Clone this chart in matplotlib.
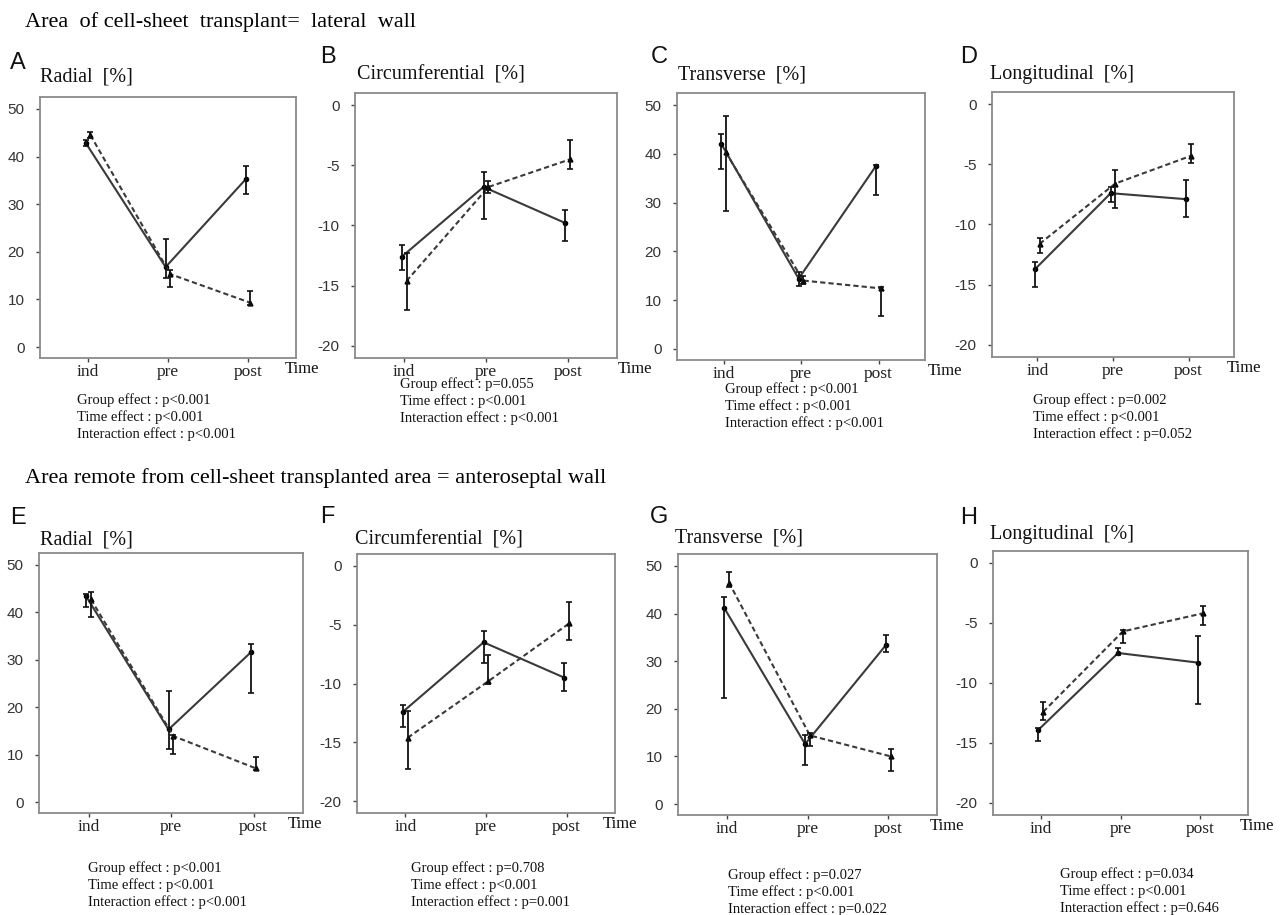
"""
Strain curves (radial / circumferential / transverse / longitudinal) at ind, pre, post,
two groups (solid vs dashed), lateral wall (top row) and anteroseptal wall (bottom row).
Writes out.png.
"""
import matplotlib
matplotlib.use("Agg")
import matplotlib.pyplot as plt

plt.rcParams["axes.unicode_minus"] = False

W, H = 1282, 915
SERIF = ["Liberation Serif", "DejaVu Serif"]
SANS = ["Liberation Sans", "DejaVu Sans"]

times = ["ind", "pre", "post"]

# --- top row: area of cell-sheet transplant (lateral wall) ---
a_solid, a_solid_lo, a_solid_hi = [42.9, 16.8, 35.2], [42.3, 14.5, 32.1], [43.5, 22.7, 38.1]
a_dash, a_dash_lo, a_dash_hi = [44.5, 15.3, 9.3], [43.9, 12.6, 8.9], [45.2, 16.2, 11.8]

b_solid, b_solid_lo, b_solid_hi = [-12.6, -6.8, -9.8], [-13.7, -9.5, -11.3], [-11.6, -5.6, -8.75]
b_dash, b_dash_lo, b_dash_hi = [-14.6, -6.8, -4.5], [-17.0, -7.3, -5.3], [-12.3, -6.3, -2.9]

c_solid, c_solid_lo, c_solid_hi = [42.1, 14.4, 37.6], [37.0, 12.9, 31.6], [44.0, 15.7, 37.8]
c_dash, c_dash_lo, c_dash_hi = [40.3, 14.0, 12.4], [28.3, 13.2, 6.7], [47.7, 15.0, 12.6]

d_solid, d_solid_lo, d_solid_hi = [-13.7, -7.4, -7.9], [-15.2, -8.1, -9.4], [-13.1, -6.9, -6.3]
d_dash, d_dash_lo, d_dash_hi = [-11.6, -6.6, -4.3], [-12.4, -8.6, -4.9], [-11.1, -5.5, -3.35]

# --- bottom row: remote area (anteroseptal wall) ---
e_solid, e_solid_lo, e_solid_hi = [43.4, 15.3, 31.6], [41.1, 11.1, 22.9], [43.9, 23.5, 33.3]
e_dash, e_dash_lo, e_dash_hi = [42.7, 13.9, 7.1], [39.0, 10.2, 6.8], [44.3, 14.1, 9.5]

f_solid, f_solid_lo, f_solid_hi = [-12.4, -6.5, -9.5], [-13.7, -8.3, -10.6], [-11.8, -5.5, -8.3]
f_dash, f_dash_lo, f_dash_hi = [-14.6, -9.8, -4.9], [-17.3, -10.0, -6.3], [-12.3, -7.6, -3.05]

g_solid, g_solid_lo, g_solid_hi = [41.2, 12.6, 33.4], [22.3, 8.3, 32.0], [43.5, 14.4, 35.5]
g_dash, g_dash_lo, g_dash_hi = [46.5, 14.4, 10.0], [45.5, 12.1, 6.9], [48.7, 14.9, 11.6]

h_solid, h_solid_lo, h_solid_hi = [-13.9, -7.5, -8.3], [-14.8, -7.7, -11.75], [-13.75, -7.1, -6.05]
h_dash, h_dash_lo, h_dash_hi = [-12.4, -5.7, -4.2], [-13.1, -6.7, -5.2], [-11.6, -5.55, -3.6]

letters = ["A", "B", "C", "D", "E", "F", "G", "H"]
titles = ["Radial  [%]", "Circumferential  [%]", "Transverse  [%]", "Longitudinal  [%]"] * 2
stats = [
    ["Group effect : p<0.001", "Time effect : p<0.001", "Interaction effect : p<0.001"],
    ["Group effect : p=0.055", "Time effect : p<0.001", "Interaction effect : p<0.001"],
    ["Group effect : p<0.001", "Time effect : p<0.001", "Interaction effect : p<0.001"],
    ["Group effect : p=0.002", "Time effect : p<0.001", "Interaction effect : p=0.052"],
    ["Group effect : p<0.001", "Time effect : p<0.001", "Interaction effect : p<0.001"],
    ["Group effect : p=0.708", "Time effect : p<0.001", "Interaction effect : p=0.001"],
    ["Group effect : p=0.027", "Time effect : p<0.001", "Interaction effect : p=0.022"],
    ["Group effect : p=0.034", "Time effect : p<0.001", "Interaction effect : p=0.646"],
]
row_titles = ["Area  of cell-sheet  transplant=  lateral  wall",
              "Area remote from cell-sheet transplanted area = anteroseptal wall"]

series = [
    (a_solid, a_solid_lo, a_solid_hi, a_dash, a_dash_lo, a_dash_hi),
    (b_solid, b_solid_lo, b_solid_hi, b_dash, b_dash_lo, b_dash_hi),
    (c_solid, c_solid_lo, c_solid_hi, c_dash, c_dash_lo, c_dash_hi),
    (d_solid, d_solid_lo, d_solid_hi, d_dash, d_dash_lo, d_dash_hi),
    (e_solid, e_solid_lo, e_solid_hi, e_dash, e_dash_lo, e_dash_hi),
    (f_solid, f_solid_lo, f_solid_hi, f_dash, f_dash_lo, f_dash_hi),
    (g_solid, g_solid_lo, g_solid_hi, g_dash, g_dash_lo, g_dash_hi),
    (h_solid, h_solid_lo, h_solid_hi, h_dash, h_dash_lo, h_dash_hi),
]

# layout in pixels: axes box (left, top, right, bottom), letter xy, title xy, Time x, stats xy
boxes = [(40, 97, 296, 358), (355, 93, 617, 358), (677, 93, 925, 360), (992, 92, 1234, 357),
         (39, 553, 303, 813), (357, 554, 615, 813), (678, 554, 937, 815), (993, 551, 1248, 815)]
letter_xy = [(10, 63), (320, 57), (651, 57), (960, 57), (10, 518), (320, 517), (650, 517), (960, 518)]
title_xy = [(40, 77), (357, 75), (678, 75), (990, 75), (40, 540), (355, 540), (675, 538), (990, 535)]
time_x = [285, 618, 928, 1227, 288, 603, 930, 1240]
stats_xy = [(77, 400), (400, 384), (725, 389), (1033, 400), (88, 868), (411, 868), (728, 875), (1060, 874)]


def fx(x):
    return x / W


def fy(y):
    return 1 - y / H


def draw_panel(fig, i):
    l, t, r, b = boxes[i]
    ax = fig.add_axes([fx(l), fy(b), (r - l) / W, (b - t) / H])
    s, s_lo, s_hi, d, d_lo, d_hi = series[i]
    xs = [k - 0.03 for k in range(3)]
    xd = [k + 0.03 for k in range(3)]
    ax.plot(xs, s, "-", color="#3a3a3a", lw=1.5, marker="o", ms=3, mfc="k", mec="k", zorder=3)
    ax.plot(xd, d, "--", color="#3a3a3a", lw=1.5, dashes=(2.5, 1.5), marker="^", ms=3.5,
            mfc="k", mec="k", zorder=3)
    ax.errorbar(xs, s, yerr=[[m - lo for m, lo in zip(s, s_lo)], [hi - m for m, hi in zip(s, s_hi)]],
                fmt="none", ecolor="#111111", elinewidth=1.3, capsize=2.5, capthick=1.2, zorder=4)
    ax.errorbar(xd, d, yerr=[[m - lo for m, lo in zip(d, d_lo)], [hi - m for m, hi in zip(d, d_hi)]],
                fmt="none", ecolor="#111111", elinewidth=1.3, capsize=2.5, capthick=1.2, zorder=4)

    ax.set_xlim(-0.6, 2.6)
    if s[0] > 0:
        ax.set_ylim(-2.3, 52.5)
        ax.set_yticks([0, 10, 20, 30, 40, 50])
    else:
        ax.set_ylim(-21, 1)
        ax.set_yticks([0, -5, -10, -15, -20])
    ax.set_xticks(range(3))
    ax.set_xticklabels(times, fontfamily=SERIF, fontsize=12.5, color="#222222")
    for lab in ax.get_yticklabels():
        lab.set_fontfamily(SANS)
        lab.set_fontsize(11)
        lab.set_color("#333333")
    ax.tick_params(axis="both", length=3, width=1, color="#444444")
    ax.tick_params(axis="y", pad=8)
    ax.tick_params(axis="x", pad=1)
    for sp in ax.spines.values():
        sp.set_color("#8a8a8a")
        sp.set_linewidth(1.3)

    fig.text(fx(letter_xy[i][0]), fy(letter_xy[i][1]), letters[i], family=SANS, fontsize=17,
             va="center", ha="left", color="#111111")
    fig.text(fx(title_xy[i][0]), fy(title_xy[i][1]), titles[i], family=SERIF, fontsize=14.5,
             va="center", ha="left", color="#111111")
    fig.text(fx(time_x[i]), fy(b + 11), "Time", family=SERIF, fontsize=12,
             va="center", ha="left", color="#111111")
    sx, sy = stats_xy[i]
    for k, line in enumerate(stats[i]):
        fig.text(fx(sx), fy(sy + 17 * k), line, family=SERIF, fontsize=10.5,
                 va="center", ha="left", color="#111111")


fig = plt.figure(figsize=(W / 100, H / 100), dpi=100)
fig.text(fx(25), fy(22), row_titles[0], family=SERIF, fontsize=16, va="center", ha="left")
fig.text(fx(25), fy(478), row_titles[1], family=SERIF, fontsize=16, va="center", ha="left")
for i in range(8):
    draw_panel(fig, i)

fig.savefig("out.png", dpi=100)
